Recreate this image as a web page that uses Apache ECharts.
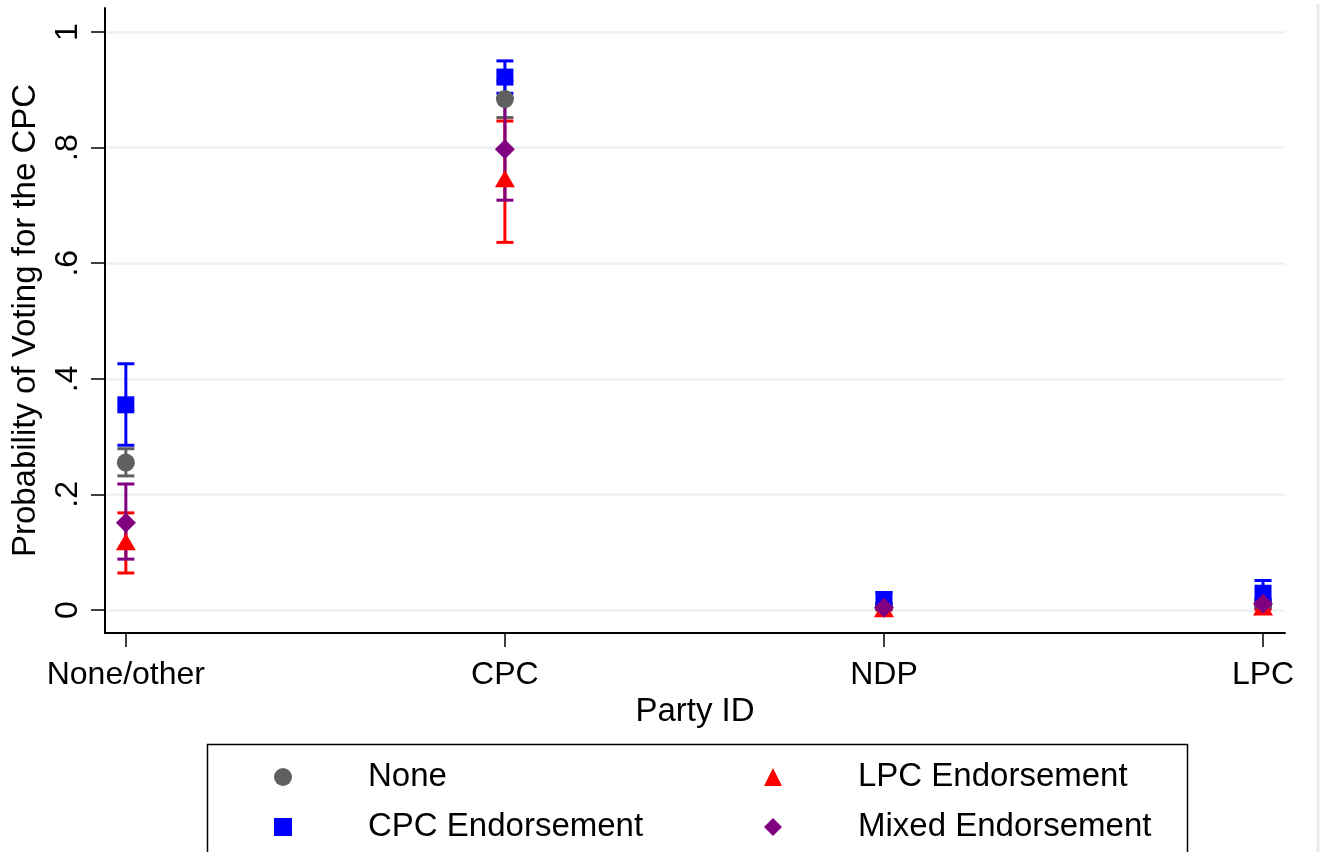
<!DOCTYPE html>
<html>
<head>
<meta charset="utf-8">
<script src="https://cdn.jsdelivr.net/npm/echarts@6/dist/echarts.min.js"></script>
<style>
html,body{margin:0;padding:0;background:#fff;}
#chart{width:1325px;height:852px;}
</style>
</head>
<body>
<div id="chart"></div>
<script>
// ---- data ----
const categories = ['None/other', 'CPC', 'NDP', 'LPC'];
const catPos = [1, 2, 3, 4];
const yTicks = [0, 0.2, 0.4, 0.6, 0.8, 1];
const yTickLabels = ['0', '.2', '.4', '.6', '.8', '1'];

const noneEst = [0.255, 0.884, 0.008, 0.012];
const noneLo  = [0.232, 0.852, 0.004, 0.006];
const noneHi  = [0.279, 0.916, 0.012, 0.018];

const lpcEst = [0.118, 0.746, 0.002, 0.005];
const lpcLo  = [0.064, 0.636, 0.000, 0.001];
const lpcHi  = [0.168, 0.846, 0.005, 0.010];

const cpcEst = [0.355, 0.922, 0.018, 0.029];
const cpcLo  = [0.285, 0.894, 0.006, 0.008];
const cpcHi  = [0.426, 0.950, 0.030, 0.051];

const mixEst = [0.151, 0.797, 0.004, 0.011];
const mixLo  = [0.088, 0.709, 0.001, 0.004];
const mixHi  = [0.218, 0.885, 0.008, 0.018];

const groups = [
  {name: 'None', est: noneEst, lo: noneLo, hi: noneHi, color: '#606060', symbol: 'circle', size: 18},
  {name: 'LPC Endorsement', est: lpcEst, lo: lpcLo, hi: lpcHi, color: '#ff0000', symbol: 'triangle', size: [20, 17]},
  {name: 'CPC Endorsement', est: cpcEst, lo: cpcLo, hi: cpcHi, color: '#0000ff', symbol: 'rect', size: 17},
  {name: 'Mixed Endorsement', est: mixEst, lo: mixLo, hi: mixHi, color: '#800080', symbol: 'diamond', size: [20, 20]}
];

const FONT = '"Liberation Sans", Arial, sans-serif';

function ciSeries(g) {
  return {
    type: 'custom',
    name: g.name + ' CI',
    z: 2,
    data: catPos.map((x, i) => [x, g.lo[i], g.hi[i]]),
    renderItem: function (params, api) {
      const x = api.value(0), lo = api.value(1), hi = api.value(2);
      const p1 = api.coord([x, hi]);
      const p2 = api.coord([x, lo]);
      const hw = 8.5;
      const st = {stroke: g.color, lineWidth: 3};
      return {
        type: 'group',
        children: [
          {type: 'line', shape: {x1: p1[0], y1: p1[1], x2: p2[0], y2: p2[1]}, style: st},
          {type: 'line', shape: {x1: p1[0] - hw, y1: p1[1], x2: p1[0] + hw, y2: p1[1]}, style: st},
          {type: 'line', shape: {x1: p2[0] - hw, y1: p2[1], x2: p2[0] + hw, y2: p2[1]}, style: st}
        ]
      };
    }
  };
}

function ptSeries(g, k) {
  return {
    type: 'scatter',
    name: g.name,
    z: 3 + k,
    symbol: g.symbol,
    symbolSize: g.size,
    itemStyle: {color: g.color, opacity: 1},
    emphasis: {disabled: true},
    data: catPos.map((x, i) => [x, g.est[i]])
  };
}

const series = [];
groups.forEach(g => series.push(ciSeries(g)));
groups.forEach((g, k) => series.push(ptSeries(g, k)));

const legendText = {fontFamily: FONT, fontSize: 33, color: '#000', lineHeight: 38, padding: [0, 0, 0, 71]};

const option = {
  backgroundColor: '#fff',
  animation: false,
  grid: {left: 105, right: 40, top: 8, bottom: 219, containLabel: false},
  xAxis: {
    type: 'value',
    min: 0.945,
    max: 4.058,
    name: 'Party ID',
    nameLocation: 'middle',
    nameGap: 57,
    nameTextStyle: {fontFamily: FONT, fontSize: 33, color: '#000'},
    axisLine: {show: true, onZero: false, lineStyle: {color: '#000', width: 2}},
    axisTick: {show: true, customValues: catPos, length: 14, lineStyle: {color: '#000', width: 1.5}},
    axisLabel: {
      customValues: catPos,
      margin: 26,
      fontFamily: FONT, fontSize: 32, color: '#000',
      formatter: v => categories[catPos.indexOf(Math.round(v))] || ''
    },
    splitLine: {show: false}
  },
  yAxis: {
    type: 'value',
    min: -0.0398,
    max: 1.0415,
    name: 'Probability of Voting for the CPC',
    nameLocation: 'middle',
    nameGap: 63,
    nameTextStyle: {fontFamily: FONT, fontSize: 33, color: '#000'},
    axisLine: {show: true, onZero: false, lineStyle: {color: '#000', width: 2}},
    axisTick: {show: true, customValues: yTicks, length: 14, lineStyle: {color: '#000', width: 1.5}},
    axisLabel: {
      customValues: yTicks,
      rotate: 90,
      margin: 21,
      fontFamily: FONT, fontSize: 32, color: '#000',
      formatter: v => {
        const i = yTicks.findIndex(t => Math.abs(t - v) < 1e-6);
        return i >= 0 ? yTickLabels[i] : '';
      }
    },
    splitLine: {show: true, lineStyle: {color: '#eaf2f3', width: 2.5}}
  },
  legend: [
    {
      orient: 'vertical', left: 274, top: 758, padding: 0,
      itemWidth: 18, itemHeight: 18, itemGap: 12,
      selectedMode: false,
      textStyle: legendText,
      data: [{name: 'None', icon: 'circle'}, {name: 'CPC Endorsement', icon: 'rect'}]
    },
    {
      orient: 'vertical', left: 764, top: 758, padding: 0,
      itemWidth: 18, itemHeight: 18, itemGap: 12,
      selectedMode: false,
      textStyle: legendText,
      data: [{name: 'LPC Endorsement', icon: 'triangle'}, {name: 'Mixed Endorsement', icon: 'diamond'}]
    }
  ],
  graphic: [
    {type: 'rect', left: 205, top: 742, shape: {width: 980, height: 140}, style: {fill: 'none', stroke: '#000', lineWidth: 1.5}, silent: true},
    {type: 'line', shape: {x1: 1318, y1: 4, x2: 1318, y2: 852}, style: {stroke: '#e8eef0', lineWidth: 3}, silent: true}
  ],
  series: series
};

const chart = echarts.init(document.getElementById('chart'), null, {renderer: 'canvas'});
chart.setOption(option);
</script>
</body>
</html>
